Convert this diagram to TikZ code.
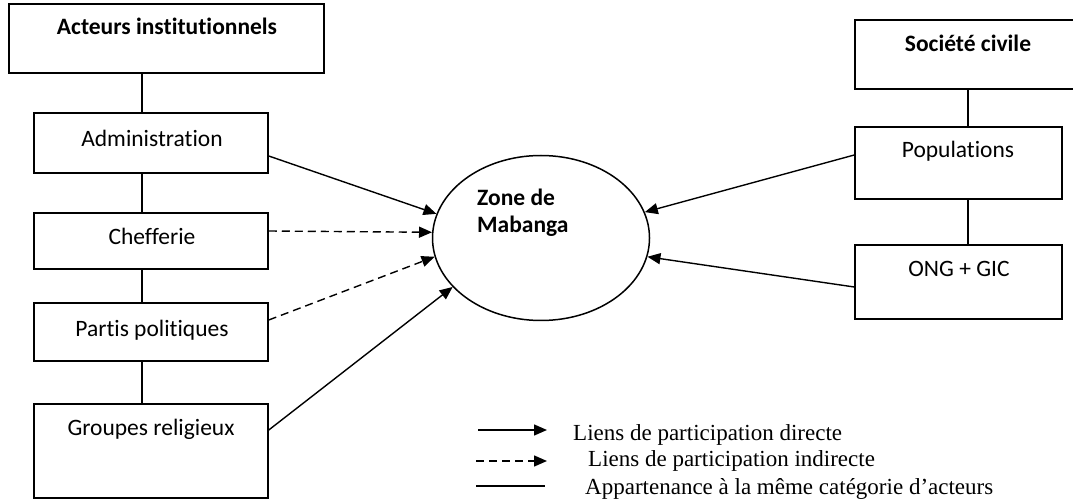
\documentclass[tikz,border=0pt]{standalone}
\usepackage{fontspec}
\setmainfont{Liberation Serif}
\newfontfamily\boxfont[Ligatures=NoCommon]{Carlito}
\usetikzlibrary{shapes.geometric,arrows.meta}
\begin{document}
\begin{tikzpicture}[x=1pt,y=-1pt,
  boxnode/.style={draw, line width=1.5pt, fill=white, inner sep=0pt, rectangle},
  lbl/.style={font=\boxfont\fontsize{23.5}{27}\selectfont, inner sep=0pt, anchor=base},
  blbl/.style={font=\boxfont\bfseries\fontsize{23.5}{27}\selectfont, inner sep=0pt, anchor=base},
  legtxt/.style={font=\fontsize{23}{27}\selectfont, inner sep=0pt, anchor=base west},
  conn/.style={line width=1.5pt},
  direct/.style={line width=1.4pt, -{Triangle[length=13pt,width=11pt]}},
  indirect/.style={line width=1.4pt, dash pattern=on 8pt off 5pt, -{Triangle[length=13pt,width=11pt]}}
]
\useasboundingbox (0,0) rectangle (1073,502);
\fill[white] (0,0) rectangle (1073,502);

% left column
\node[boxnode, minimum width=315pt, minimum height=69pt] (act) at (166.5,38.5) {};
\node[boxnode, minimum width=234pt, minimum height=60pt] (adm) at (151,143) {};
\node[boxnode, minimum width=234pt, minimum height=56pt] (chef) at (151,241) {};
\node[boxnode, minimum width=234pt, minimum height=58pt] (part) at (151,332) {};
\node[boxnode, minimum width=234pt, minimum height=94pt] (grp) at (151,451) {};

\node[blbl] (tact) at (167,35) {Acteurs institutionnels};
\node[lbl] (tadm) at (152,147) {Administration};
\node[lbl] (tchef) at (152,245) {Chefferie};
\node[lbl] (tpart) at (152,337) {Partis politiques};
\node[lbl] (tgrp) at (151,435) {Groupes religieux};

\draw[conn] ([xshift=-9pt]adm.north |- act.south) -- ([xshift=-9pt]adm.north);
\draw[conn] ([xshift=-9pt]adm.south) -- ([xshift=-9pt]chef.north);
\draw[conn] ([xshift=-9pt]chef.south) -- ([xshift=-9pt]part.north);
\draw[conn] ([xshift=-9pt]part.south) -- ([xshift=-9pt]grp.north);

% right column
\node[boxnode, minimum width=230pt, minimum height=69pt] (soc) at (970,54.5) {};
\node[boxnode, minimum width=207pt, minimum height=72pt] (pop) at (958.5,163) {};
\node[boxnode, minimum width=207pt, minimum height=74pt] (ong) at (958.5,282) {};

\node[blbl] (tsoc) at (968,52) {Société civile};
\node[lbl] (tpop) at (958,158) {Populations};
\node[lbl] (tong) at (959,277) {ONG + GIC};

\draw[conn] ([xshift=9.5pt]pop.north |- soc.south) -- ([xshift=9.5pt]pop.north);
\draw[conn] ([xshift=9.5pt]pop.south) -- ([xshift=9.5pt]ong.north);

% centre
\node[draw, line width=1.5pt, ellipse, inner sep=0pt, minimum width=217pt, minimum height=165pt] (zone) at (541,238) {};
\node[font=\boxfont\bfseries\fontsize{23.5}{27}\selectfont, align=left, inner sep=0pt, anchor=north west] (tzone) at (477,189) {Zone de\\Mabanga};

\draw[direct] ([yshift=-13pt]adm.east) -- (zone.167);
\draw[indirect] ([yshift=10pt]chef.east) -- (zone.177);
\draw[indirect] ([yshift=12pt]part.east) -- (zone.190.5);
\draw[direct] ([yshift=21pt]grp.east) -- (zone.209.7);
\draw[direct] ([yshift=8pt]pop.west) -- (zone.14.3);
\draw[direct] ([yshift=-5pt]ong.west) -- (zone.-10.9);

% legend
\coordinate (l1a) at (478,430); \coordinate (l1b) at (547,430);
\coordinate (l2a) at (476,461); \coordinate (l2b) at (547,461);
\coordinate (l3a) at (476,486); \coordinate (l3b) at (545,486);
\draw[direct] (l1a) -- (l1b);
\draw[indirect] (l2a) -- (l2b);
\draw[conn] (l3a) -- (l3b);
\node[legtxt] (leg1) at (573,440) {Liens de participation directe};
\node[legtxt] (leg2) at (588,466) {Liens de participation indirecte};
\node[legtxt] (leg3) at (585,494) {Appartenance à la même catégorie d’acteurs};
\end{tikzpicture}
\end{document}
